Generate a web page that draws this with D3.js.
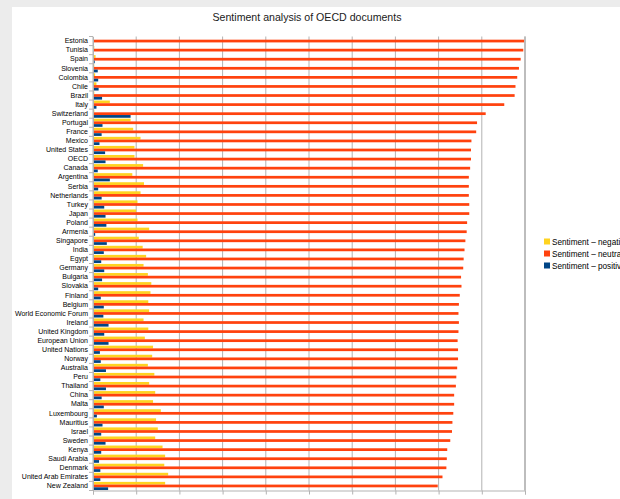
<!DOCTYPE html>
<html>
<head>
<meta charset="utf-8">
<script src="https://cdn.jsdelivr.net/npm/d3@7"></script>
<style>
  body { margin: 0; background: #ececec; overflow: hidden; }
  svg { display: block; font-family: "Liberation Sans", Arial, sans-serif; }
</style>
</head>
<body>
<script>
// categories, top to bottom
var countries = ["Estonia", "Tunisia", "Spain", "Slovenia", "Colombia", "Chile", "Brazil", "Italy",
  "Switzerland", "Portugal", "France", "Mexico", "United States", "OECD", "Canada", "Argentina",
  "Serbia", "Netherlands", "Turkey", "Japan", "Poland", "Armenia", "Singapore", "India", "Egypt",
  "Germany", "Bulgaria", "Slovakia", "Finland", "Belgium", "World Economic Forum", "Ireland",
  "United Kingdom", "European Union", "United Nations", "Norway", "Australia", "Peru", "Thailand",
  "China", "Malta", "Luxembourg", "Mauritius", "Israel", "Sweden", "Kenya", "Saudi Arabia",
  "Denmark", "United Arab Emirates", "New Zealand"];

var negative = [0.001, 0.003, 0.006, 0.003, 0.005, 0.008, 0.003, 0.039,
  0.003, 0.087, 0.093, 0.110, 0.096, 0.096, 0.116, 0.091,
  0.118, 0.110, 0.103, 0.100, 0.103, 0.130, 0.106, 0.115, 0.123,
  0.117, 0.127, 0.135, 0.133, 0.128, 0.130, 0.117,
  0.128, 0.120, 0.139, 0.137, 0.127, 0.142, 0.130,
  0.144, 0.139, 0.157, 0.146, 0.150, 0.144, 0.161, 0.167,
  0.165, 0.174, 0.167];

var neutral = [0.998, 0.996, 0.990, 0.986, 0.982, 0.978, 0.976, 0.952,
  0.909, 0.889, 0.887, 0.876, 0.875, 0.875, 0.873, 0.870,
  0.870, 0.870, 0.871, 0.871, 0.866, 0.865, 0.862, 0.860, 0.858,
  0.857, 0.852, 0.853, 0.849, 0.847, 0.846, 0.847,
  0.846, 0.844, 0.845, 0.845, 0.843, 0.841, 0.840,
  0.836, 0.836, 0.834, 0.832, 0.831, 0.827, 0.820, 0.819,
  0.818, 0.809, 0.798];

var positive = [0.001, 0.001, 0.004, 0.011, 0.012, 0.013, 0.021, 0.008,
  0.087, 0.022, 0.020, 0.015, 0.028, 0.029, 0.011, 0.039,
  0.012, 0.020, 0.026, 0.029, 0.031, 0.005, 0.032, 0.025, 0.019,
  0.026, 0.021, 0.012, 0.018, 0.025, 0.024, 0.036,
  0.026, 0.036, 0.016, 0.018, 0.030, 0.017, 0.030,
  0.020, 0.025, 0.009, 0.022, 0.019, 0.029, 0.019, 0.014,
  0.017, 0.017, 0.035];

var seriesNames = ["Sentiment – negative", "Sentiment – neutral", "Sentiment – positive"];
var seriesColors = ["#ffd320", "#ff420e", "#004586"];
var xTicks = [0, 0.1, 0.2, 0.3, 0.4, 0.5, 0.6, 0.7, 0.8, 0.9, 1];

var W = 620, H = 499;
var plotL = 93, plotR = 525, plotT = 36.5, plotB = 490.5;

var svg = d3.select("body").append("svg")
  .attr("width", W)
  .attr("height", H);

// white chart page
svg.append("rect")
  .attr("x", 12).attr("y", 7)
  .attr("width", W - 12).attr("height", H - 7)
  .attr("fill", "#ffffff");

svg.append("text")
  .attr("x", 307).attr("y", 20.5)
  .attr("text-anchor", "middle")
  .attr("font-size", 10.6)
  .attr("fill", "#1a1a1a")
  .text("Sentiment analysis of OECD documents");

var x = d3.scaleLinear().domain([0, 1]).range([plotL, plotR]);
var y = d3.scaleBand().domain(countries).range([plotT, plotB]).paddingInner(0.1).paddingOuter(0.05);
var ySeries = d3.scaleBand().domain([0, 1, 2]).range([0, y.bandwidth()]);

// gridlines
svg.append("g").selectAll("line")
  .data(xTicks)
  .enter().append("line")
  .attr("x1", function(d){ return x(d); })
  .attr("x2", function(d){ return x(d); })
  .attr("y1", plotT).attr("y2", plotB)
  .attr("stroke", "#b3b3b3")
  .attr("stroke-width", 1);

// bars
var rows = countries.map(function(c, i){
  return { name: c, vals: [negative[i], neutral[i], positive[i]] };
});

var groups = svg.append("g").selectAll("g")
  .data(rows)
  .enter().append("g")
  .attr("transform", function(d){ return "translate(0," + y(d.name) + ")"; });

groups.selectAll("rect")
  .data(function(d){ return d.vals; })
  .enter().append("rect")
  .attr("x", x(0))
  .attr("y", function(d, i){ return ySeries(i); })
  .attr("width", function(d){ return x(d) - x(0); })
  .attr("height", ySeries.bandwidth())
  .attr("fill", function(d, i){ return seriesColors[i]; });

// y axis
var yAxis = svg.append("g")
  .attr("transform", "translate(" + plotL + ",0)")
  .call(d3.axisLeft(y).tickSize(0).tickPadding(5));
yAxis.select(".domain").attr("stroke", "#b3b3b3");
yAxis.selectAll("text")
  .attr("font-size", 7)
  .attr("font-family", "Liberation Sans, Arial, sans-serif")
  .attr("fill", "#000");

// category boundary ticks
var bounds = countries.map(function(c){ return y(c) - y.step() * y.paddingInner() / 2; });
bounds.push(plotB);
svg.append("g").selectAll("line")
  .data(bounds)
  .enter().append("line")
  .attr("x1", plotL - 4).attr("x2", plotL)
  .attr("y1", function(d){ return d; })
  .attr("y2", function(d){ return d; })
  .attr("stroke", "#b3b3b3");

// x axis
var xAxis = svg.append("g")
  .attr("transform", "translate(0," + plotB + ")")
  .call(d3.axisBottom(x).tickValues(xTicks).tickSize(4).tickPadding(6)
    .tickFormat(function(d){ return d === 0 || d === 1 ? d3.format("d")(d) : d3.format(".1f")(d); }));
xAxis.select(".domain").attr("stroke", "#b3b3b3");
xAxis.selectAll("line").attr("stroke", "#b3b3b3");
xAxis.selectAll("text")
  .attr("font-size", 9)
  .attr("font-family", "Liberation Sans, Arial, sans-serif")
  .attr("fill", "#000");

// right border of plot
svg.append("line")
  .attr("x1", plotR).attr("x2", plotR)
  .attr("y1", plotT).attr("y2", plotB)
  .attr("stroke", "#b3b3b3").attr("stroke-width", 1.5);

// legend
var legend = svg.append("g").attr("transform", "translate(544,242)");
var items = legend.selectAll("g")
  .data(seriesNames)
  .enter().append("g")
  .attr("transform", function(d, i){ return "translate(0," + (i * 12) + ")"; });
items.append("rect")
  .attr("x", 0).attr("y", -3.5)
  .attr("width", 6).attr("height", 6)
  .attr("fill", function(d, i){ return seriesColors[i]; });
items.append("text")
  .attr("x", 8).attr("y", 3)
  .attr("font-size", 8.2)
  .attr("fill", "#000")
  .text(function(d){ return d; });
</script>
</body>
</html>
